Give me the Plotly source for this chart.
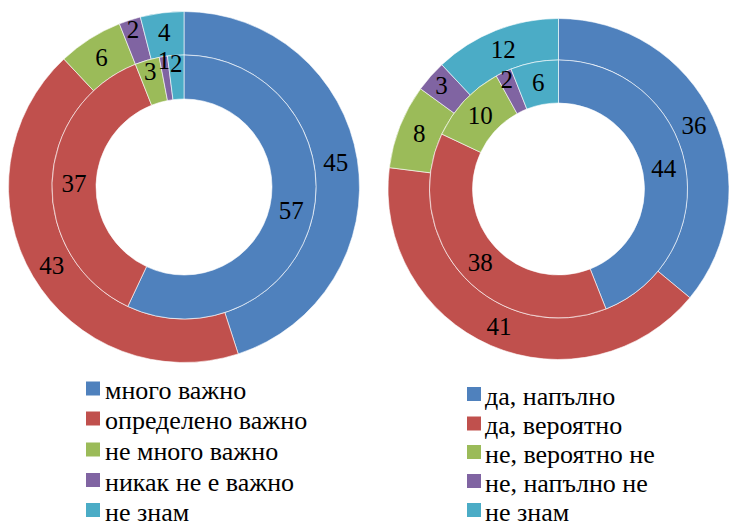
import plotly.graph_objects as go

colors = ["#4F81BD", "#C0504D", "#9BBB59", "#8064A2", "#4BACC6"]

left_labels = ["много важно", "определено важно", "не много важно", "никак не е важно", "не знам"]
left_outer = [45, 43, 6, 2, 4]
left_inner = [57, 37, 3, 1, 2]

right_labels = ["да, напълно", "да, вероятно", "не, вероятно не", "не, напълно не", "не знам"]
right_outer = [36, 41, 8, 3, 12]
right_inner = [44, 38, 10, 2, 6]

W, H = 729, 521
FONT = "'Liberation Serif', 'Times New Roman', serif"


def dom(x0, x1, y0, y1):
    return dict(x=[max(0, x0 / W), min(1, x1 / W)],
                y=[max(0, 1 - y1 / H), min(1, 1 - y0 / H)])


def ring(labels, values, domain, hole):
    return go.Pie(
        labels=labels, values=values, domain=domain, hole=hole,
        sort=False, direction="clockwise", rotation=0,
        marker=dict(colors=colors, line=dict(color="white", width=0.6)),
        textinfo="value", textposition="inside", insidetextorientation="horizontal",
        textfont=dict(family=FONT, size=25, color="black"),
        showlegend=False, hoverinfo="label+value",
    )


fig = go.Figure()
# left pair of rings, centre (184, 187)
fig.add_trace(ring(left_labels, left_outer, dom(8.5, 359.5, 11.5, 362.5), 132 / 175.5))
fig.add_trace(ring(left_labels, left_inner, dom(52, 316, 55, 319), 88 / 132))
# right pair of rings, centre (558.5, 189)
fig.add_trace(ring(right_labels, right_outer, dom(388, 729, 18.5, 359.5), 129 / 170.5))
fig.add_trace(ring(right_labels, right_inner, dom(429.5, 687.5, 60, 318), 86 / 129))


def legend(labels, sq_x, text_x, rows):
    for lab, col, yc in zip(labels, colors, rows):
        fig.add_shape(type="rect", xref="paper", yref="paper",
                      x0=sq_x / W, x1=(sq_x + 14) / W,
                      y0=1 - (yc + 7) / H, y1=1 - (yc - 7) / H,
                      fillcolor=col, line=dict(width=0))
        fig.add_annotation(xref="paper", yref="paper", x=text_x / W, y=1 - (yc + 2) / H,
                           xanchor="left", yanchor="middle", showarrow=False,
                           text=lab, font=dict(family=FONT, size=26, color="black"))


legend(left_labels, 86, 103, [388.5, 418.5, 449.5, 480, 510])
legend(right_labels, 467, 483, [394, 423.5, 452, 481, 510])

fig.update_layout(
    width=W, height=H, margin=dict(l=0, r=0, t=0, b=0, autoexpand=False),
    paper_bgcolor="white", plot_bgcolor="white",
    uniformtext=dict(minsize=25, mode="show"),
    showlegend=False,
)

fig.write_html(
    "out.html",
    config={"displayModeBar": False},
    post_script="document.documentElement.style.margin='0';document.body.style.margin='0';"
                "document.body.style.overflow='hidden';document.documentElement.style.overflow='hidden';",
)
